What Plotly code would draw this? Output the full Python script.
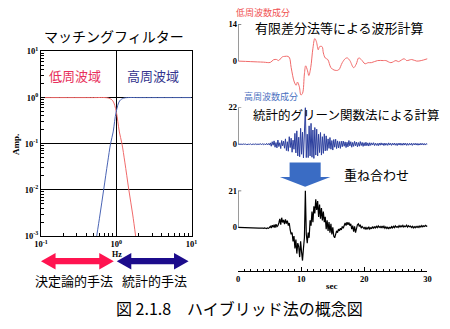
import numpy as np
import plotly.graph_objects as go

W, H = 450, 329

# ---- matching filter gains (frequency in Hz, amplitude) ----
low_freq = [0.1, 0.5, 0.71, 0.8, 0.9, 1.0, 1.05, 1.1, 1.19, 1.3, 1.47, 1.65, 1.81]
low_amp = [1.0, 1.0, 1.0, 0.97, 0.85, 0.5, 0.3, 0.18, 0.1, 0.04, 0.01, 0.003, 0.001]
high_freq = [0.55, 0.61, 0.68, 0.77, 0.84, 0.91, 0.95, 1.0, 1.11, 1.25, 1.41, 2.0, 10.0]
high_amp = [0.001, 0.003, 0.01, 0.04, 0.1, 0.18, 0.3, 0.5, 0.85, 0.97, 1.0, 1.0, 1.0]

amp_ticks = [1e-3, 1e-2, 1e-1, 1e0, 1e1]
amp_labels = ["10<sup>-3</sup>", "10<sup>-2</sup>", "10<sup>-1</sup>", "10<sup>0</sup>", "10<sup>1</sup>"]
hz_ticks = [0.1, 1, 10]
hz_labels = ["10<sup>-1</sup>", "10<sup>0</sup>", "10<sup>1</sup>"]

# ---- low-frequency waveform (finite difference), sec / value ----
fd_time = [0, 2, 4, 5.1, 5.6, 6.1, 6.4, 7.0, 7.4, 7.9, 8.15, 8.4, 8.9, 9.2, 9.4, 9.7,
           9.95, 10.2, 10.5, 10.7, 11.0, 11.2, 11.5, 11.85, 12.15, 12.4, 12.7, 12.9,
           13.3, 13.5, 13.8, 14.2, 14.7, 15.2, 15.9, 16.5, 17.0, 17.3, 17.7, 18.3,
           18.7, 19.1, 19.5, 20.1, 20.6, 21.1, 22.1, 23.0, 23.4, 24.2, 25.0, 25.4,
           26.3, 26.7, 27.5, 28.3, 29.0, 30.0]
fd_value = [0, -0.2, -0.4, -0.5, 0.5, 0.6, 0.2, 1.6, 1.8, 1.8, 1.2, -2.4, -8.0, -9.2,
            -8.0, -9.8, -12.9, -12.3, -4.9, -1.8, -3.7, -5.5, -2.5, 4.9, 8.6, 7.4, 4.3,
            5.5, 5.5, 3.1, 1.2, 0.6, -2.5, -3.4, -3.4, -0.6, 1.0, 1.2, 0.2, -2.5, -1.2,
            1.2, 0.6, -1.0, -0.6, -0.6, 0.2, 0.2, 0.2, -0.6, 0.2, -0.2, 0.9, 0.2, 0.6,
            0.0, 0.2, 0.9]
fd_max = 14

# ---- high-frequency waveform (stochastic Green's function), 0-30 s ----
sg_value = [
    0, 0.1, -0.1, 0.1, 0, -0.1, 0.2, -0.1, 0.1, -0.2, 0.1, 0, -0.1, 0.2, -0.2, 0.1, 0.1,
    -0.2, 0.3, -0.2, 0.2, -0.3, 0.2, -0.1, 0.3, -0.3, 0.4, -0.3, 0.2, -0.4, 0.5, -0.3, 0.4, -0.5,
    0.8, -1.2, 1.5, -0.6, 2.0, -1.8, 1.0, -2.2, 2.5, -1.4, 0.9, -2.6, 2.2, -1.0, 1.8, -2.4,
    3.2, -3.8, 1.5, -4.2, 4.5, -2.0, 3.6, -4.8, 2.4, -3.0,
    6.5, -5.2, 8.0, -7.0, 4.2, -7.5, 9.5, -6.0, 7.2, -8.2,
    5.0, 22.0, -8.0, 6.0,
    -8.0, 11.0, -7.0, 12.5, -7.8, 8.5, -8.5, 10.0, -6.5, 9.0,
    -7.0, 6.0, -5.0, 7.0, -6.5, 4.5, -5.5, 6.2, -4.0, 5.0,
    -3.8, 3.2, -2.5, 4.0, -3.0, 2.2, -3.5, 2.8, -1.8, 3.0, -2.6, 2.0, -2.2, 1.6, -2.5, 1.8,
    -1.5, 1.9, -1.2, 1.4, -2.0, 1.2, -1.6, 2.2, -1.0, 1.5, -1.8, 1.1, -1.3, 1.7, -0.9, 1.3,
    -1.5, 1.0, -1.2, 1.6, -0.8, 1.1, -1.3, 0.9, -1.0, 1.2, -0.9, 0.8, -1.1, 0.9,
    -0.7, 0.8, -0.5, 0.9, -0.8, 0.6, -0.7, 0.5, -0.9, 0.7, -0.6, 0.8, -0.5, 0.6, -0.8, 0.7,
    -0.6, 0.5, -0.7, 0.8, -0.5, 0.6, -0.7, 0.6, -0.5, 0.7, -0.6, 0.5, -0.8, 0.6, -0.5, 0.7,
    -0.6, 0.5, -0.6, 0.7, -0.5, 0.6, -0.7, 0.5, -0.6, 0.5, -0.5, 0.6, -0.7, 0.5, -0.4, 0.6,
    -0.5, 0.5, -0.6, 0.4, -0.5, 0.6, -0.4, 0.5, -0.5, 0.4, -0.5, 0.4, 0]
sg_max = 22

# ---- hybrid (superposed) waveform, 0-30 s ----
hy_value = [
    0, 0, -0.1, 0, -0.1, -0.1, -0.1, -0.2, -0.1, -0.2, -0.2, -0.2, -0.3, -0.2, -0.3, -0.3,
    -0.2, -0.3, -0.4, -0.3, -0.4, -0.3, -0.4, -0.5, -0.4, -0.5, -0.4, -0.6, -0.3, -0.5,
    -0.7, -0.3, -0.6, -0.2,
    0.6, -0.4, 1.2, 0.0, 1.5, -0.2, 1.8, 0.4, 1.0,
    2.5, 4.8, 1.6, 5.5, 2.8, 4.2, 1.8, 4.6, 2.2, 3.8, 1.0, 2.5,
    -1.5, -4.0, -3.0,
    -8, -5, -12, -7, -15, -9, -11, -17, -8, -14, -19, -12,
    -6, 21, -4, -9, -3,
    -6, 4, 1, 9, 3, 12,
    8, 16, 10, 15,
    6, 13, 5, 11, 4, 9, 3,
    6, -1, 4, -2, 3, -3, 2, -4, 0, -5, -6,
    -4, -2, -3, -1, -2, -0.5, -1.5, 0.5, -0.5, 1.0,
    2.5, 1.0, 3.0, 1.5, 2.8, 1.0, 2.0,
    -1.0, 1.0, -2.5, 0.5, -3.0, -0.5, 1.5,
    2.0, 0.5, 1.5, -0.5, 0.5, 0.0,
    -0.8, 0.2, -1.2, -0.2, -0.9, 0.3, -1.0, -0.3, -0.6, 0.4,
    -0.7, 0.5, -0.3, 0.6, -0.2, 0.8, 0.0, 0.5, -0.4, 0.7,
    -0.2, 0.6, -0.5, 0.3, -0.6, 0.0, -0.9, 0.2, -0.7, 0.4,
    -0.3, 0.6, -0.2, 0.8, 0.1, 0.5, -0.1, 1.0, 0.2, 0.9,
    0.3, 1.1, 0.2, 0.8, 0.4, 1.2, 0.1, 0.9, 0.3, 0.7,
    -0.1, 0.6, -0.3, 0.4, -0.2, 0.5, 0.0, 0.6, -0.1, 0.8,
    0.2, 1.0, 0.3, 0.9, 0.5, 1.1, 0.6, 0.8]
hy_max = 21
sec_ticks = [0, 10, 20, 30]

DURATION = 30.0
sg_time = np.linspace(0, DURATION, len(sg_value))
hy_time = np.linspace(0, DURATION, len(hy_value))

JP = "Noto Sans CJK JP"
SERIF = "Liberation Serif"
RED_LINE = "#f06a6a"
BLUE_LINE = "#2c3f9e"


def fx(p):
    return p / W


def fy(p):
    return 1 - p / H


def path_from(points):
    s = "M " + " L ".join(f"{fx(x):.5f},{fy(y):.5f}" for x, y in points)
    return s + " Z"


def double_arrow(x0, x1, yc, head=15, half_head=8.5, half_shaft=3.3):
    return path_from([
        (x0, yc), (x0 + head, yc - half_head), (x0 + head, yc - half_shaft),
        (x1 - head, yc - half_shaft), (x1 - head, yc - half_head), (x1, yc),
        (x1 - head, yc + half_head), (x1 - head, yc + half_shaft),
        (x0 + head, yc + half_shaft), (x0 + head, yc + half_head),
    ])


fig = go.Figure()

# matching filters
fig.add_trace(go.Scatter(x=low_freq, y=low_amp, mode="lines", line=dict(color=RED_LINE, width=1, shape="spline"),
                         xaxis="x", yaxis="y"))
fig.add_trace(go.Scatter(x=high_freq, y=high_amp, mode="lines", line=dict(color="#4a64b4", width=1, shape="spline"),
                         xaxis="x", yaxis="y"))

# waveforms
fig.add_trace(go.Scatter(x=fd_time, y=fd_value, mode="lines", line=dict(color=RED_LINE, width=1, shape="spline"),
                         xaxis="x2", yaxis="y2"))
fig.add_trace(go.Scatter(x=sg_time, y=sg_value, mode="lines", line=dict(color=BLUE_LINE, width=1),
                         xaxis="x3", yaxis="y3"))
fig.add_trace(go.Scatter(x=hy_time, y=hy_value, mode="lines", line=dict(color="black", width=1.2),
                         xaxis="x4", yaxis="y4"))

tickfont = dict(family=SERIF, size=8.5, color="black", weight="bold")

minor_hz = [m * 10 ** k for k in (-1, 0) for m in range(2, 10)]
minor_amp = [m * 10 ** k for k in (-3, -2, -1, 0) for m in range(2, 10)]

wave_x = dict(domain=[fx(238), fx(433)], range=[0, DURATION], showgrid=False, zeroline=False)

fig.update_layout(
    width=W, height=H, margin=dict(l=0, r=0, t=0, b=0),
    paper_bgcolor="white", plot_bgcolor="white", showlegend=False,
    xaxis=dict(type="log", range=[-1, 1], domain=[fx(35), fx(190)], anchor="y",
               tickvals=hz_ticks, ticktext=hz_labels, tickfont=tickfont,
               showgrid=True, gridcolor="black", gridwidth=1, zeroline=False,
               showline=True, linecolor="black", linewidth=1, mirror=True,
               ticks="inside", ticklen=4, tickcolor="black",
               minor=dict(tickvals=minor_hz, ticks="inside", ticklen=3, tickcolor="black", showgrid=False)),
    yaxis=dict(type="log", range=[-3, 1], domain=[fy(238), fy(47)], anchor="x",
               tickvals=amp_ticks, ticktext=amp_labels, tickfont=tickfont,
               showgrid=True, gridcolor="black", gridwidth=1, zeroline=False,
               showline=True, linecolor="black", linewidth=1, mirror=True,
               ticks="inside", ticklen=4, tickcolor="black",
               minor=dict(tickvals=minor_amp, ticks="inside", ticklen=3, tickcolor="black", showgrid=False)),
    xaxis2=dict(wave_x, anchor="y2", visible=False),
    yaxis2=dict(domain=[fy(95), fy(19)], range=[-fd_max, fd_max], anchor="x2",
                tickvals=[0, fd_max], tickfont=tickfont, showgrid=False, zeroline=False, ticks=""),
    xaxis3=dict(wave_x, anchor="y3", visible=False),
    yaxis3=dict(domain=[fy(162), fy(105)], range=[-11.0, sg_max], anchor="x3",
                tickvals=[0, sg_max], tickfont=tickfont, showgrid=False, zeroline=False, ticks=""),
    xaxis4=dict(wave_x, anchor="y4", tickvals=sec_ticks, tickfont=tickfont,
                showline=True, linecolor="black", linewidth=1,
                ticks="inside", ticklen=4, tickcolor="black",
                minor=dict(dtick=1, ticks="inside", ticklen=2, tickcolor="black")),
    yaxis4=dict(domain=[fy(274), fy(191)], range=[-24.87, hy_max], anchor="x4",
                tickvals=[0, hy_max], tickfont=tickfont, showgrid=False, zeroline=False, ticks=""),
)

shapes = []
for k, top in ((2, fd_max), (3, sg_max), (4, hy_max)):
    axis_line = dict(color="#606060", width=1.2)
    shapes.append(dict(type="line", xref=f"x{k}", yref=f"y{k}", x0=0, x1=0, y0=0, y1=top, line=axis_line))
    shapes.append(dict(type="line", xref=f"x{k}", yref=f"y{k}", x0=0, x1=0.5, y0=top, y1=top, line=axis_line))

# method arrows under the filter plot
shapes.append(dict(type="path", xref="paper", yref="paper", path=double_arrow(35, 110, 264),
                   fillcolor="#ff1450", line=dict(width=0)))
shapes.append(dict(type="path", xref="paper", yref="paper", path=double_arrow(113, 187, 264),
                   fillcolor="#1c0c8c", line=dict(width=0)))

# superposition arrow
shapes.append(dict(type="path", xref="paper", yref="paper",
                   path=path_from([(291, 162), (323, 162), (323, 177), (333, 177), (307, 187),
                                   (281, 177), (291, 177)]),
                   fillcolor="#3a6cc4", line=dict(width=0)))
fig.update_layout(shapes=shapes)


def note(text, x, y, size, color="black", family=JP, angle=0, weight="normal"):
    fig.add_annotation(text=text, x=fx(x), y=fy(y), xref="paper", yref="paper",
                       xanchor="center", yanchor="middle", showarrow=False, textangle=angle,
                       font=dict(family=family, size=size, color=color, weight=weight))


note("マッチングフィルター", 110, 31, 14)
note("低周波域", 70, 72, 13, color="#e8305c")
note("高周波域", 150, 72, 13, color="#34348e")
note("Amp.", 10, 143, 9, family=SERIF, angle=-90, weight="bold")
note("Hz", 113, 257, 8, family=SERIF, weight="bold")
note("決定論的手法", 69, 284, 13)
note("統計的手法", 152, 284, 13)
note("低周波数成分", 264, 7, 9, color="#f05050")
note("有限差分法等による波形計算", 342, 22, 13)
note("高周波数成分", 272, 94, 9, color="#4a70c0")
note("統計的グリーン関数法による計算", 350, 112, 12.5)
note("重ね合わせ", 381, 174, 13)
note("sec", 335, 290, 9, family=SERIF, weight="bold")
note("図 2.1.8　ハイブリッド法の概念図", 239, 312, 16)

fig.write_html("out.html")
